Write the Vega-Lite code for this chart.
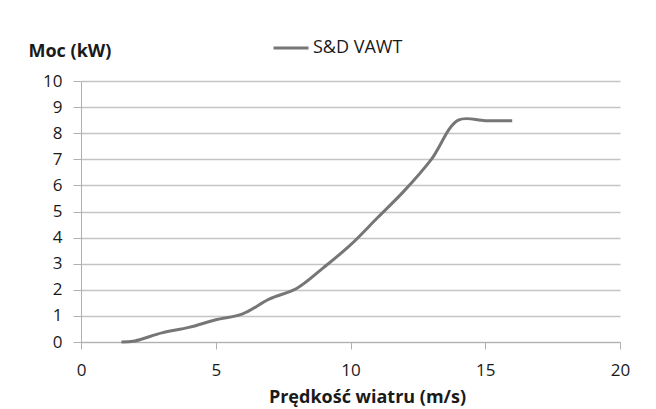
{
  "$schema": "https://vega.github.io/schema/vega-lite/v6.json",
  "width": 539,
  "height": 261,
  "autosize": "none",
  "padding": {"left": 81, "top": 81, "right": 36, "bottom": 67},
  "background": "white",
  "config": {"view": {"stroke": null}, "font": "Open Sans", "legend": {"padding": 0}},
  "data": {"values": [
    {"v": 1.5, "p": 0, "s": "S&D VAWT"},
    {"v": 2, "p": 0.04, "s": "S&D VAWT"},
    {"v": 3, "p": 0.35, "s": "S&D VAWT"},
    {"v": 4, "p": 0.56, "s": "S&D VAWT"},
    {"v": 5, "p": 0.85, "s": "S&D VAWT"},
    {"v": 6, "p": 1.08, "s": "S&D VAWT"},
    {"v": 7, "p": 1.65, "s": "S&D VAWT"},
    {"v": 8, "p": 2.05, "s": "S&D VAWT"},
    {"v": 9, "p": 2.85, "s": "S&D VAWT"},
    {"v": 10, "p": 3.72, "s": "S&D VAWT"},
    {"v": 11, "p": 4.76, "s": "S&D VAWT"},
    {"v": 12, "p": 5.8, "s": "S&D VAWT"},
    {"v": 13, "p": 7.0, "s": "S&D VAWT"},
    {"v": 14, "p": 8.5, "s": "S&D VAWT"},
    {"v": 15, "p": 8.48, "s": "S&D VAWT"},
    {"v": 16, "p": 8.48, "s": "S&D VAWT"}
  ]},
  "mark": {"type": "line", "interpolate": "catmull-rom", "strokeWidth": 3},
  "encoding": {
    "x": {"field": "v", "type": "quantitative",
      "scale": {"domain": [0, 20], "nice": false, "zero": false},
      "axis": {"values": [0, 5, 10, 15, 20], "grid": false, "labelFlush": false,
        "title": "Prędkość wiatru (m/s)",
        "titleFontSize": 18, "titleFontWeight": "bold", "titleColor": "#1a1a1a",
        "titleX": 286, "titleY": 60, "titleAlign": "center", "titleBaseline": "alphabetic",
        "labelFontSize": 17, "labelColor": "#1a1a1a", "labelPadding": 13,
        "domainColor": "#b0b0b0", "tickColor": "#b0b0b0", "tickSize": 7}},
    "y": {"field": "p", "type": "quantitative",
      "scale": {"domain": [0, 10], "nice": false},
      "axis": {"values": [0,1,2,3,4,5,6,7,8,9,10], "grid": true, "gridColor": "#c4c4c4", "gridWidth": 1.3,
        "title": "Moc (kW)", "titleAngle": 0, "titleAlign": "left", "titleBaseline": "alphabetic",
        "titleX": -53, "titleY": -25, "titleFontSize": 18, "titleFontWeight": "bold", "titleColor": "#1a1a1a",
        "labelFontSize": 17, "labelColor": "#1a1a1a", "labelPadding": 11,
        "domainColor": "#b0b0b0", "tickColor": "#b0b0b0", "tickSize": 8}},
    "color": {"field": "s", "type": "nominal",
      "scale": {"range": ["#767676"]},
      "legend": {"title": null, "orient": "none", "legendX": 191, "legendY": -52,
        "symbolType": "stroke", "symbolStrokeWidth": 3, "symbolSize": 1225,
        "labelFont": "Open Sans", "labelFontSize": 18, "labelColor": "#1a1a1a", "labelOffset": 3}}
  }
}
